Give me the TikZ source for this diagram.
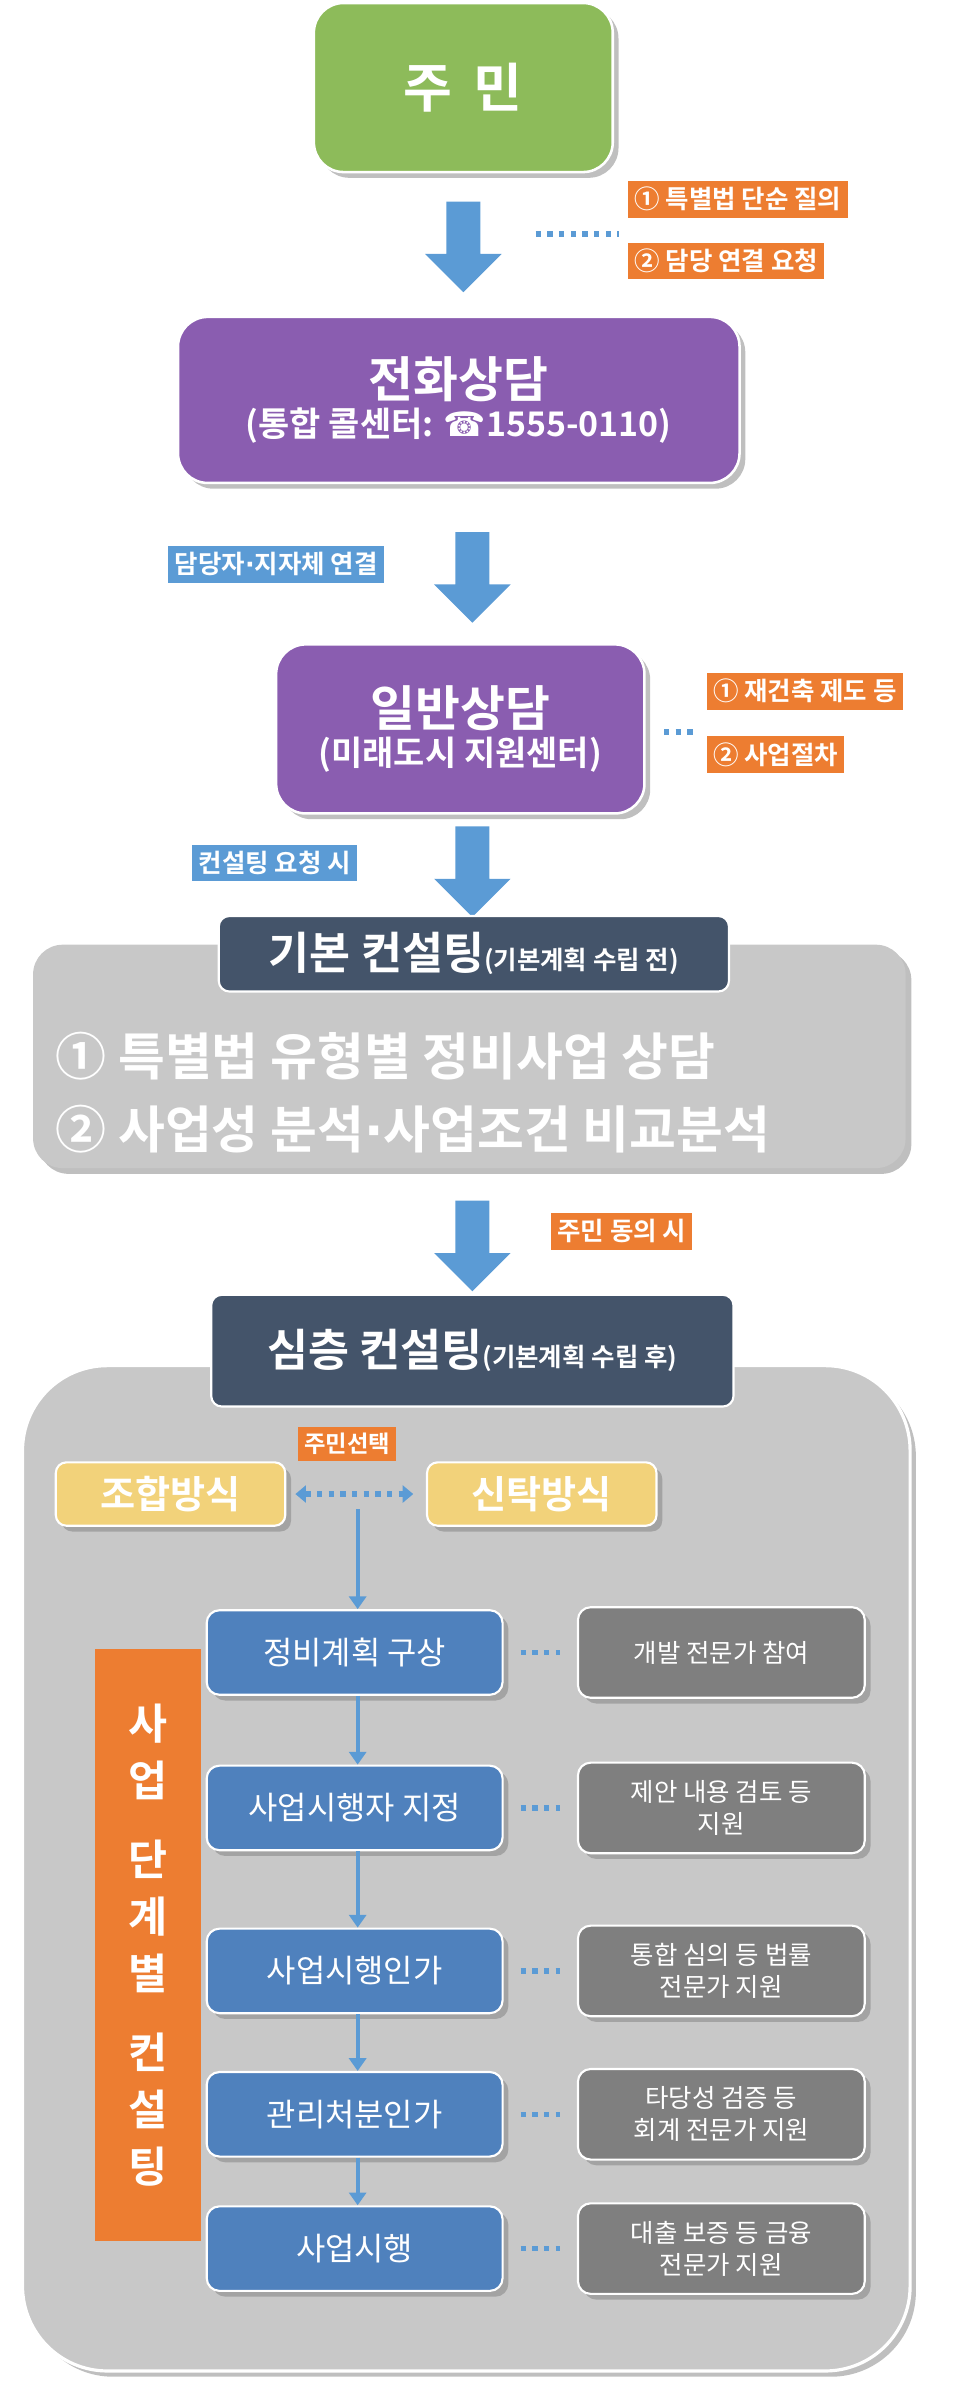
\documentclass[tikz,border=0pt]{standalone}
\usepackage{fontspec}
\setmainfont{Noto Sans CJK KR}[BoldFont={Noto Sans CJK KR Bold}]
\newfontfamily\symf{DejaVu Sans}
\usetikzlibrary{shapes.arrows,arrows.meta,shadows}
\definecolor{grn}{HTML}{8DBB5A}
\definecolor{pur}{HTML}{8A5DB0}
\definecolor{blu}{HTML}{5B9BD5}
\definecolor{org}{HTML}{ED7D31}
\definecolor{dark}{HTML}{44546A}
\definecolor{lgray}{HTML}{C8C8C8}
\definecolor{stg}{HTML}{4F81BD}
\definecolor{dgray}{HTML}{7F7F7F}
\definecolor{yel}{HTML}{F2D27A}
\begin{document}
\begin{tikzpicture}[x=0.025cm,y=-0.025cm,
  bigbox/.style={rounded corners=14pt,draw=white,line width=1.2pt,text=white,font=\bfseries,drop shadow,align=center},
  lab/.style={fill=org,text=white,font=\bfseries\fontsize{12}{14}\selectfont,inner sep=3pt},
  blab/.style={fill=blu,text=white,font=\bfseries\fontsize{12}{14}\selectfont,inner sep=3pt},
  fat/.style={single arrow,fill=blu,minimum width=62\pgflinewidth,single arrow head extend=10pt,shape border rotate=270,inner sep=0pt,minimum height=1.5cm,text width=0.55cm},
  stage/.style={fill=stg,rounded corners=6pt,draw=white,line width=1pt,text=white,font=\fontsize{15}{18}\selectfont,minimum width=4.9cm,minimum height=1.4cm,drop shadow},
  side/.style={fill=dgray,rounded corners=6pt,draw=white,line width=1pt,text=white,font=\fontsize{12}{15}\selectfont,minimum width=4.75cm,minimum height=1.5cm,align=center,drop shadow},
  dot/.style={blu,line width=2.5pt,dash pattern=on 2.5pt off 3pt},
  thin/.style={blu,line width=2pt,-{Triangle[length=6pt,width=8pt]}}]
\useasboundingbox (0,0) rectangle (640,1591);
% top
\node[bigbox,fill=grn,minimum width=4.95cm,minimum height=2.8cm,font=\bfseries\fontsize{25}{30}\selectfont] (jm) at (307,58) {주\hspace{0.4em}민};
\node[fat] (a1) at (307,158) {};
\node[lab,anchor=west] (l1) at (416,132) {① 특별법 단순 질의};
\node[lab,anchor=west] (l2) at (416,173) {② 담당 연결 요청};
\coordinate (d1) at (355,155); \coordinate (d1e) at (410,155);
\draw[dot] (d1) -- (d1e);
\node[bigbox,fill=pur,minimum width=9.3cm,minimum height=2.75cm] (ph) at (304,265) {{\fontsize{23}{28}\selectfont 전화상담}\\[2pt]{\fontsize{16}{20}\selectfont (통합 콜센터: {\symf ☎}1555-0110)}};
\node[fat] (a2) at (313,377) {};
\node[blab] (bl1) at (183,374) {담당자{\symf ·}지자체 연결};
\node[bigbox,fill=pur,minimum width=6.1cm,minimum height=2.8cm] (gen) at (305,483) {{\fontsize{23}{28}\selectfont 일반상담}\\[2pt]{\fontsize{16}{20}\selectfont (미래도시 지원센터)}};
\coordinate (d2) at (440,485); \coordinate (d2e) at (462,485);
\draw[dot] (d2) -- (d2e);
\node[lab,anchor=west] (l3) at (468,458) {① 재건축 제도 등};
\node[lab,anchor=west] (l4) at (468,500) {② 사업절차};
\node[fat] (a3) at (313,572) {};
\node[blab] (bl2) at (182,572) {컨설팅 요청 시};
% basic consulting
\node[bigbox,fill=lgray,draw=none,minimum width=14.45cm,minimum height=3.7cm] (gbox) at (311,700) {};
\node[anchor=west,text=white,font=\bfseries\fontsize{24}{28}\selectfont] (t1) at (32,700) {① 특별법 유형별 정비사업 상담};
\node[anchor=west,text=white,font=\bfseries\fontsize{24}{28}\selectfont] (t2) at (32,748) {② 사업성 분석{\symf ·}사업조건 비교분석};
\node[fill=dark,rounded corners=5pt,draw=white,line width=1pt,text=white,minimum width=8.45cm,minimum height=1.25cm] (bas) at (314,632) {\bfseries\fontsize{21}{25}\selectfont 기본 컨설팅{\fontsize{12}{14}\selectfont(기본계획 수립 전)}};
\node[fat] (a4) at (313,820) {};
\node[lab] (l5) at (412,816) {주민 동의 시};
% deep consulting
\node[bigbox,fill=lgray,draw=white,line width=1.5pt,rounded corners=40pt,minimum width=14.7cm,minimum height=16.65cm] (dbox) at (309,1238) {};
\node[fill=dark,rounded corners=5pt,draw=white,line width=1pt,text=white,minimum width=8.65cm,minimum height=1.85cm] (deep) at (313,895) {\bfseries\fontsize{21}{25}\selectfont 심층 컨설팅{\fontsize{12}{14}\selectfont(기본계획 수립 후)}};
\node[lab,font=\bfseries\fontsize{11}{13}\selectfont] (l6) at (230,957) {주민선택};
\node[fill=yel,rounded corners=5pt,draw=white,line width=1pt,text=white,font=\bfseries\fontsize{18}{22}\selectfont,minimum width=3.8cm,minimum height=1.05cm,drop shadow] (jo) at (113,990) {조합방식};
\node[fill=yel,rounded corners=5pt,draw=white,line width=1pt,text=white,font=\bfseries\fontsize{18}{22}\selectfont,minimum width=3.8cm,minimum height=1.05cm,drop shadow] (sin) at (359,990) {신탁방식};
\draw[dot,{Triangle[length=5pt,width=8pt]}-{Triangle[length=5pt,width=8pt]},dash pattern=on 2.5pt off 3pt] (jo.east)++(6,0) -- ([xshift=-6]sin.west);
\coordinate (c0) at (237,1000);
% stages
\node[stage] (s1) at (235,1095) {정비계획 구상};
\node[stage] (s2) at (235,1198) {사업시행자 지정};
\node[stage] (s3) at (235,1306) {사업시행인가};
\node[stage] (s4) at (235,1401) {관리처분인가};
\node[stage] (s5) at (235,1490) {사업시행};
\draw[thin] (c0) -- (c0|-s1.north);
\draw[thin] (s1.south-|c0) -- (s2.north-|c0);
\draw[thin] (s2.south-|c0) -- (s3.north-|c0);
\draw[thin] (s3.south-|c0) -- (s4.north-|c0);
\draw[thin] (s4.south-|c0) -- (s5.north-|c0);
\node[side] (r1) at (478,1095) {개발 전문가 참여};
\node[side] (r2) at (478,1198) {제안 내용 검토 등\\지원};
\node[side] (r3) at (478,1306) {통합 심의 등 법률\\전문가 지원};
\node[side] (r4) at (478,1401) {타당성 검증 등\\회계 전문가 지원};
\node[side] (r5) at (478,1490) {대출 보증 등 금융\\전문가 지원};
\foreach \i in {1,...,5} \draw[dot] ([xshift=8]s\i.east) -- ([xshift=-8]r\i.west);
\node[fill=org,minimum width=1.75cm,minimum height=9.8cm,text=white,font=\bfseries\fontsize{20}{27}\selectfont,align=center] (bar) at (98,1289) {사\\업\\[10pt]단\\계\\별\\[10pt]컨\\설\\팅};
\end{tikzpicture}
\end{document}
